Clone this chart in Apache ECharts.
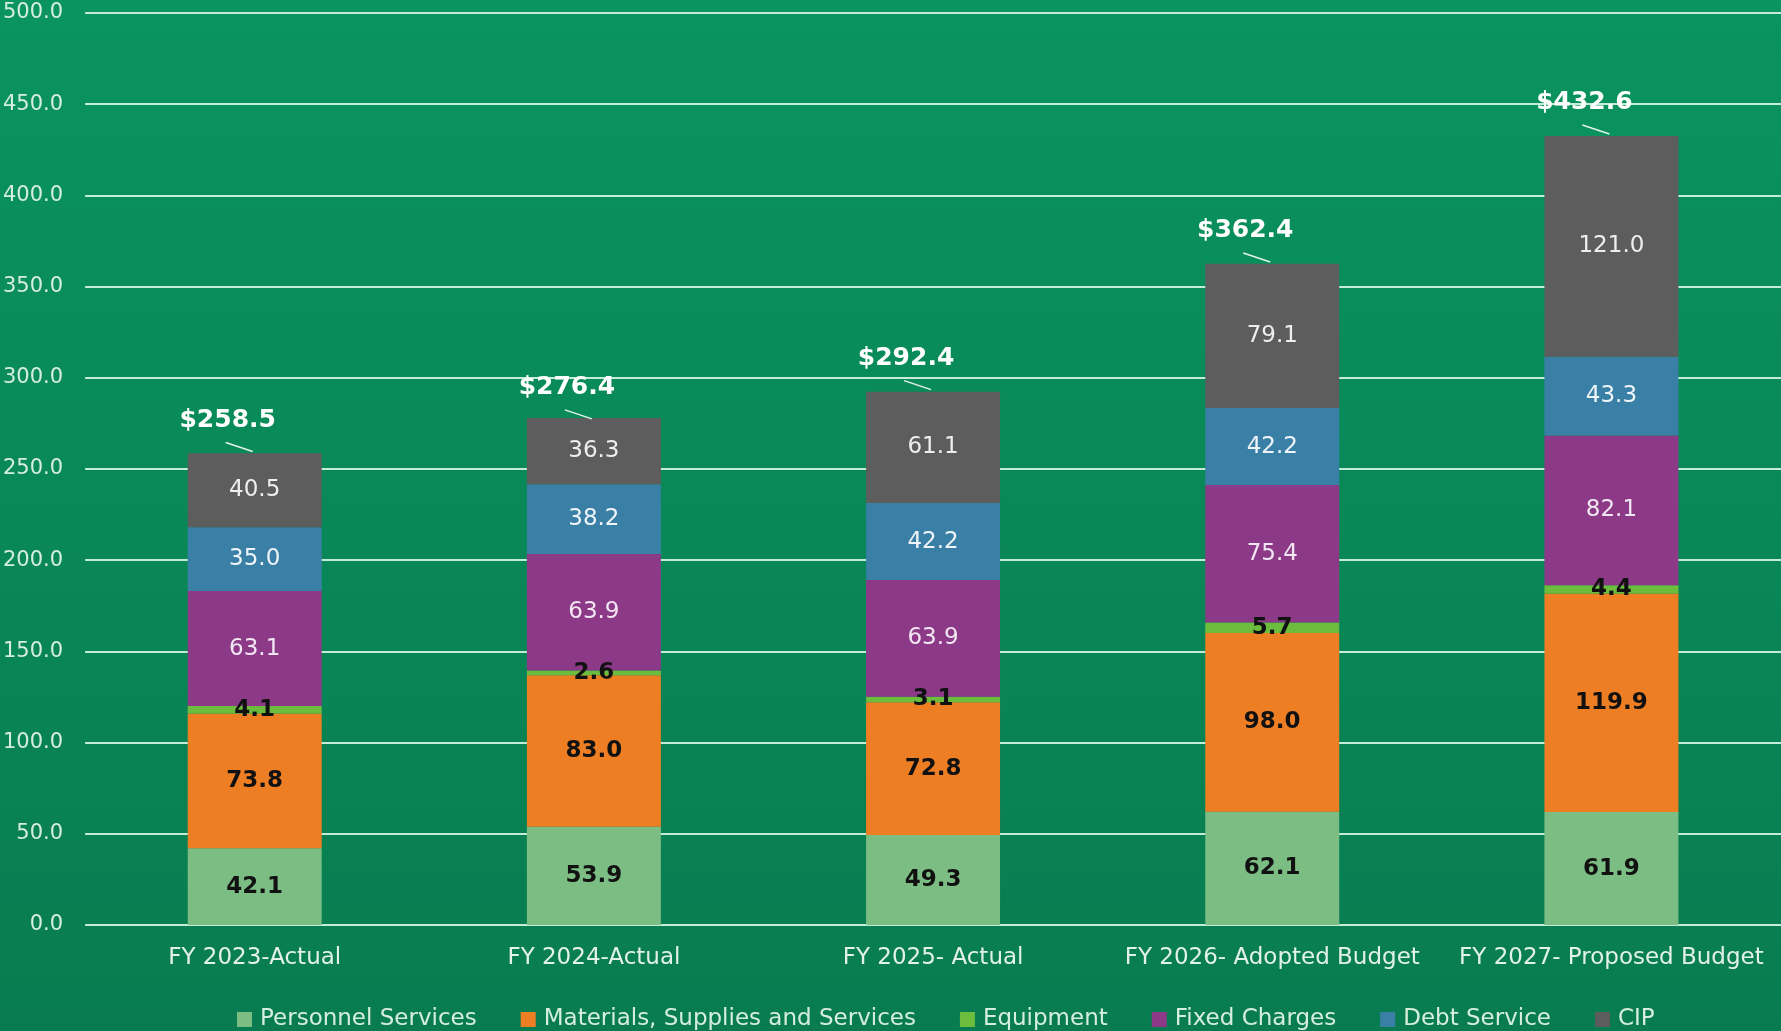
<!DOCTYPE html>
<html lang="en">
<head>
    <meta charset="UTF-8">
    <title>Budget by Category</title>
    <style>
        html, body { margin: 0; padding: 0; }
        #chart { width: 1781px; height: 1031px; }
    </style>
</head>
<body>
<div id="chart"></div>
<script src="https://cdn.jsdelivr.net/npm/echarts@6/dist/echarts.min.js"></script>
<script>
    // data (millions)
    var years = ['FY 2023-Actual', 'FY 2024-Actual', 'FY 2025- Actual', 'FY 2026- Adopted Budget', 'FY 2027- Proposed Budget'];
    var personnel = [42.1, 53.9, 49.3, 62.1, 61.9];
    var materials = [73.8, 83.0, 72.8, 98.0, 119.9];
    var equipment = [4.1, 2.6, 3.1, 5.7, 4.4];
    var fixedCharges = [63.1, 63.9, 63.9, 75.4, 82.1];
    var debtService = [35.0, 38.2, 42.2, 42.2, 43.3];
    var cip = [40.5, 36.3, 61.1, 79.1, 121.0];
    var totals = [258.5, 276.4, 292.4, 362.4, 432.6];

    var font = 'DejaVu Sans';

    function barSeries(name, data, color, labelColor, size, weight) {
        return {
            name: name,
            type: 'bar',
            stack: 'total',
            barWidth: '39.5%',
            data: data,
            itemStyle: { color: color },
            label: {
                show: true,
                position: 'inside',
                color: labelColor,
                fontFamily: font,
                fontSize: size,
                fontWeight: weight,
                formatter: function (p) { return p.value.toFixed(1); }
            }
        };
    }

    var myChart = echarts.init(document.getElementById('chart'));
    var option = {
        backgroundColor: {
            type: 'linear', x: 0, y: 0, x2: 0, y2: 1,
            colorStops: [{ offset: 0, color: '#0a945f' }, { offset: 1, color: '#087c50' }]
        },
        animation: false,
        grid: { left: 85, right: 0, top: 13, bottom: 106 },
        legend: {
            data: ['Personnel Services', 'Materials, Supplies and Services', 'Equipment', 'Fixed Charges', 'Debt Service', 'CIP'],
            left: 232,
            top: 1003,
            itemWidth: 15,
            itemHeight: 15,
            itemGap: 44,
            icon: 'rect',
            textStyle: { color: '#d6eedc', fontFamily: font, fontSize: 23, padding: [0, 0, 0, 3] }
        },
        xAxis: {
            type: 'category',
            data: years,
            axisLine: { show: false },
            axisTick: { show: false },
            axisLabel: { color: '#e2f2e8', fontFamily: font, fontSize: 23, margin: 22, interval: 0 }
        },
        yAxis: {
            type: 'value',
            min: 0,
            max: 500,
            interval: 50,
            axisLine: { show: false },
            axisTick: { show: false },
            splitLine: { lineStyle: { color: '#c4ecd6', width: 2 } },
            axisLabel: {
                color: '#d6eedc', fontFamily: font, fontSize: 21, margin: 22,
                formatter: function (v) { return v.toFixed(1); }
            }
        },
        series: [
            barSeries('Personnel Services', personnel, '#7cbd84', '#111111', 23, 'bold'),
            barSeries('Materials, Supplies and Services', materials, '#ee7e24', '#111111', 23, 'bold'),
            barSeries('Equipment', equipment, '#6cbd3e', '#111111', 23, 'bold'),
            barSeries('Fixed Charges', fixedCharges, '#8c3a88', '#f2e6f2', 23, 'normal'),
            barSeries('Debt Service', debtService, '#3a7fa6', '#eef4f8', 23, 'normal'),
            barSeries('CIP', cip, '#5d5d5d', '#eeeeee', 23, 'normal'),
            {
                name: 'Total',
                type: 'custom',
                data: totals.map(function (t, i) { return [i, t]; }),
                encode: { x: 0, y: 1 },
                z: 10,
                renderItem: function (params, api) {
                    var pt = api.coord([api.value(0), api.value(1)]);
                    return {
                        type: 'group',
                        children: [
                            {
                                type: 'line',
                                shape: { x1: pt[0] - 29, y1: pt[1] - 11, x2: pt[0] - 2, y2: pt[1] - 2 },
                                style: { stroke: '#e4f4ea', lineWidth: 1.5 }
                            },
                            {
                                type: 'text',
                                x: pt[0] - 27,
                                y: pt[1] - 33,
                                style: {
                                    text: '$' + api.value(1).toFixed(1),
                                    fill: '#ffffff',
                                    font: 'bold 25px ' + font,
                                    align: 'center',
                                    verticalAlign: 'middle'
                                }
                            }
                        ]
                    };
                }
            }
        ]
    };
    myChart.setOption(option);
</script>
</body>
</html>
